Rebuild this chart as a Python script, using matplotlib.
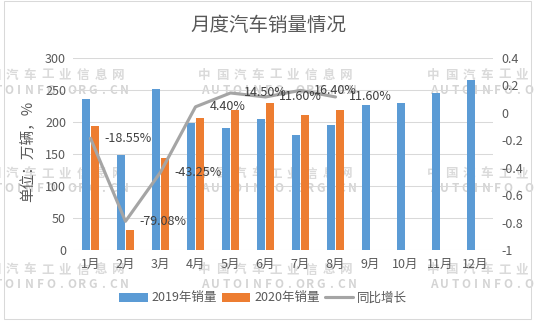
import matplotlib
matplotlib.use('Agg')
import matplotlib.pyplot as plt
import numpy as np
from matplotlib.patches import Rectangle

plt.rcParams['font.family'] = ['Noto Sans CJK SC', 'DejaVu Sans']

months = ['1月', '2月', '3月', '4月', '5月', '6月', '7月', '8月', '9月', '10月', '11月', '12月']
sales_2019 = [236, 148, 251, 198, 191, 205, 180, 195, 227, 229, 245, 265]
sales_2020 = [193, 31, 143, 207, 219, 230, 211, 219]
growth = [-0.1855, -0.7908, -0.4325, 0.044, 0.145, 0.116, 0.164, 0.116]
growth_labels = ['-18.55%', '-79.08%', '-43.25%', '4.40%', '14.50%', '11.60%', '16.40%', '11.60%']

W, H = 534, 323
c_blue, c_orange, c_gray = '#5B9BD5', '#ED7D31', '#A5A5A5'
txt = '#595959'

fig = plt.figure(figsize=(W / 100, H / 100), dpi=100)
ax = fig.add_axes([73 / W, 1 - 250 / H, 420 / W, 192 / H])
ax2 = ax.twinx()
ax.patch.set_visible(False)
ax2.patch.set_visible(False)

# watermark, drawn behind the axes
def spaced(x0, y0, s, step, size, color):
    for i, ch in enumerate(s):
        fig.text((x0 + i * step) / W, 1 - y0 / H, ch, ha='center', va='center',
                 fontsize=size, fontweight='bold', color=color, zorder=-5)

for col in (-24, 204, 433):
    for row in (75, 174, 270):
        spaced(col, row, '中国汽车工业信息网', 17.8, 9, '#DADADA')
        spaced(col + 1, row + 15, 'AUTOINFO.ORG.CN', 10.5, 8.5, '#D4D4D4')

x = np.arange(len(months))
bw = 0.23
ax.bar(x - 0.14, sales_2019, width=bw, color=c_blue, zorder=2, label='2019年销量')
ax.bar(x[:len(sales_2020)] + 0.14, sales_2020, width=bw, color=c_orange, zorder=2, label='2020年销量')
ax.set_ylim(0, 300)
ax.set_xlim(-0.5, len(months) - 0.5)
ax.set_yticks(np.arange(0, 301, 50))
ax.set_xticks(x)
ax.set_xticklabels(months)
ax.grid(axis='y', color='#D9D9D9', linewidth=0.75, zorder=0)
ax.set_axisbelow(True)

xl = x[:len(growth)]
line, = ax2.plot(xl, growth, color=c_gray, linewidth=2.25, solid_capstyle='round',
                 label='同比增长', zorder=3)
for xi, g, lab in zip(xl, growth, growth_labels):
    ax2.annotate(lab, xy=(xi, g), xytext=(10, 0), textcoords='offset points',
                 ha='left', va='center', fontsize=9, color='#404040')
ax2.set_ylim(-1, 0.4)
ax2.set_yticks(np.arange(-1, 0.41, 0.2))
ax2.set_yticklabels(['-1', '-0.8', '-0.6', '-0.4', '-0.2', '0', '0.2', '0.4'])

for a in (ax, ax2):
    for s in a.spines.values():
        s.set_visible(False)
    a.tick_params(length=0, labelsize=9, labelcolor=txt)
ax.tick_params(axis='y', pad=5)
ax.tick_params(axis='x', pad=6)
ax2.tick_params(axis='y', pad=6)

fig.text(268 / W, 1 - 25.5 / H, '月度汽车销量情况', ha='center', va='center', fontsize=14, color=txt)
fig.text(28 / W, 1 - 151 / H, '单位：万辆，%', ha='center', va='center', rotation=90,
         fontsize=10.5, color=txt)

h1, l1 = ax.get_legend_handles_labels()
fig.legend(h1 + [line], l1 + ['同比增长'], loc='center', bbox_to_anchor=(263 / W, 1 - 298 / H),
           ncol=3, frameon=False, fontsize=9, labelcolor=txt, handlelength=2.3,
           handletextpad=0.3, columnspacing=0.4, borderaxespad=0)

fig.patches.append(Rectangle((4 / W, 4 / H), 527 / W, 318 / H, transform=fig.transFigure,
                             fill=False, edgecolor='#D9D9D9', linewidth=0.75))

fig.savefig('out.png', dpi=100)
